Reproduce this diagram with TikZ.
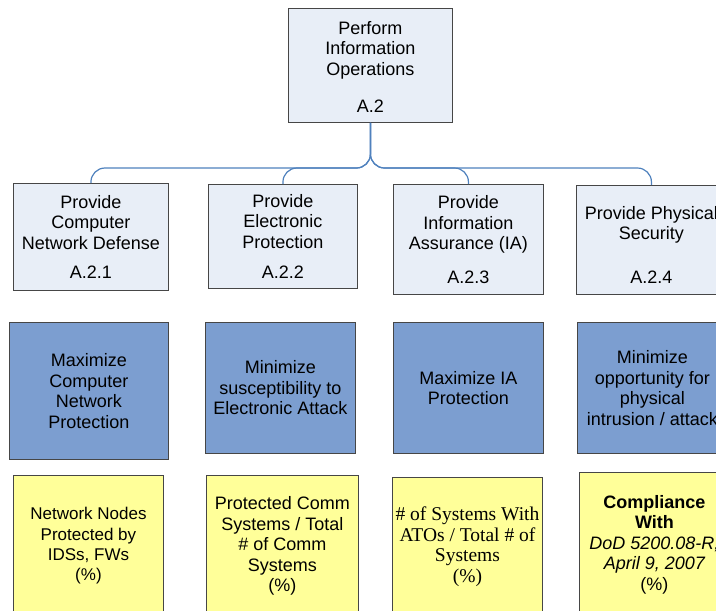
\documentclass[tikz,border=0pt]{standalone}
\usepackage{fontspec}
\setmainfont{Liberation Sans}
\newfontfamily\timesfont{Liberation Serif}
\definecolor{boxline}{RGB}{70,70,70}
\definecolor{lightfill}{RGB}{232,238,247}
\definecolor{bluefill}{RGB}{124,158,208}
\definecolor{yellowfill}{RGB}{255,255,153}
\definecolor{connblue}{RGB}{79,129,189}
\begin{document}
\begin{tikzpicture}[x=1pt,y=-1pt,
  box/.style={draw=boxline, line width=0.9pt, anchor=north west, inner sep=0pt,
    align=center, font=\fontsize{18}{20.5}\selectfont},
  lbox/.style={box, fill=lightfill},
  bbox/.style={box, fill=bluefill},
  ybox/.style={box, fill=yellowfill},
  conn/.style={draw=connblue, line width=1.2pt, rounded corners=14pt}]
\useasboundingbox (0,0) rectangle (716,611);
\clip (0,0) rectangle (716,611);

% top
\node[lbox, minimum width=164pt, minimum height=114pt] (t) at (288,8)
  {\rule{0pt}{16pt}Perform\\Information\\Operations\\[17pt]A.2};

% children
\node[lbox, minimum width=155pt, minimum height=107pt] (c1) at (13,183)
  {Provide\\Computer\\Network Defense\\[8.5pt]A.2.1};
\node[lbox, minimum width=149pt, minimum height=104pt] (c2) at (208,184)
  {Provide\\Electronic\\Protection\\[9.5pt]A.2.2};
\node[lbox, minimum width=150pt, minimum height=110pt] (c3) at (393,184)
  {Provide\\Information\\Assurance (IA)\\[13pt]A.2.3};
\node[lbox, minimum width=150pt, minimum height=109pt] (c4) at (576,185)
  {\rule{0pt}{23pt}Provide Physical\\Security\\[23pt]A.2.4};

% blue
\node[bbox, minimum width=159pt, minimum height=137pt] (b1) at (9,322)
  {Maximize\\Computer\\Network\\Protection};
\node[bbox, minimum width=150pt, minimum height=131pt] (b2) at (205,322)
  {Minimize\\susceptibility to\\Electronic Attack};
\node[bbox, minimum width=150pt, minimum height=131pt] (b3) at (393,322)
  {Maximize IA\\Protection};
\node[bbox, minimum width=150pt, minimum height=131pt] (b4) at (577,322)
  {Minimize\\opportunity for\\physical\\intrusion / attack};

% yellow
\node[ybox, minimum width=150pt, minimum height=141pt,
  font=\fontsize{17}{20.3}\selectfont] (y1) at (13,475)
  {Network Nodes\\Protected by\\IDSs, FWs\\(\%)};
\node[ybox, minimum width=152pt, minimum height=141pt] (y2) at (206,475)
  {Protected Comm\\Systems / Total\\\# of Comm\\Systems\\(\%)};
\node[ybox, minimum width=150pt, minimum height=139pt,
  font=\timesfont\fontsize{19.5}{20.5}\selectfont] (y3) at (392,477)
  {\# of Systems With\\ATOs / Total \# of\\Systems\\(\%)};
\node[ybox, minimum width=150pt, minimum height=144pt] (y4) at (579,472)
  {{\bfseries Compliance}\\{\bfseries With}\\{\itshape DoD 5200.08-R,}\\{\itshape April 9, 2007}\\(\%)};

% connectors
\coordinate (bus) at (0,168);
\draw[conn] (t.south) |- (c1.north |- bus) -- (c1.north);
\draw[conn] (t.south) |- (c2.north |- bus) -- (c2.north);
\draw[conn] (t.south) |- (c3.north |- bus) -- (c3.north);
\draw[conn] (t.south) |- (c4.north |- bus) -- (c4.north);
\end{tikzpicture}
\end{document}
